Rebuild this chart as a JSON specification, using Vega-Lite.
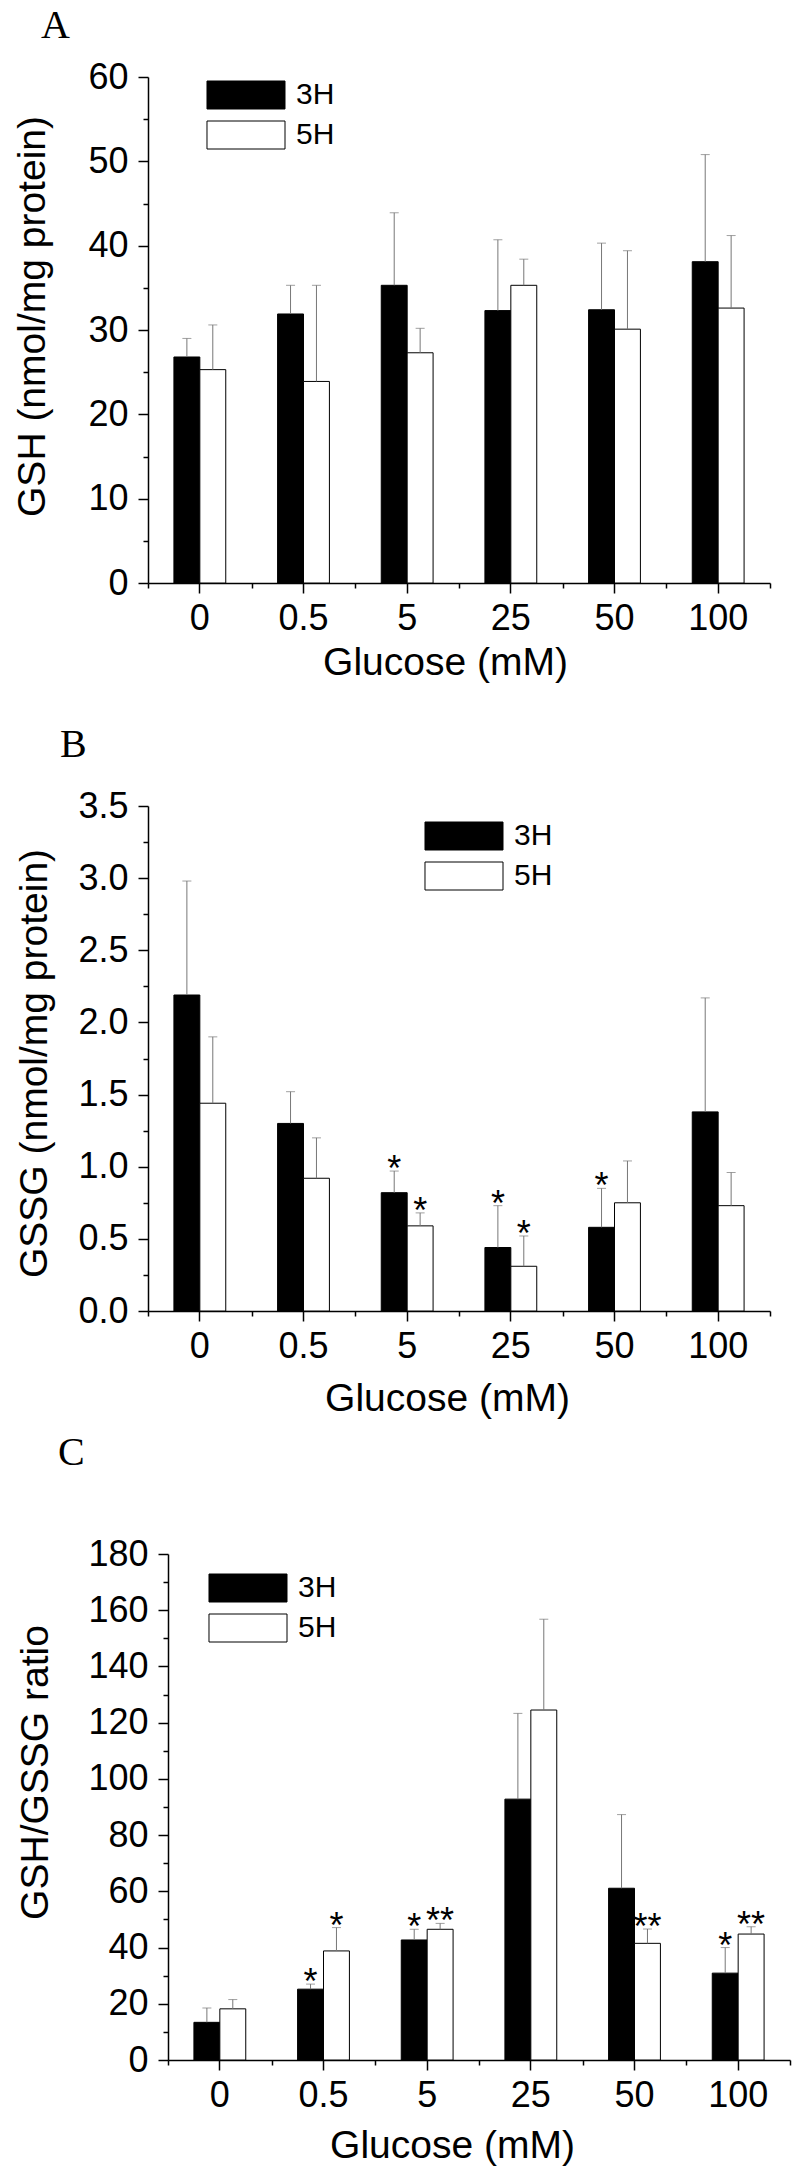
{
  "$schema": "https://vega.github.io/schema/vega-lite/v6.json",
  "padding": {"left": 12, "top": 6, "right": 5, "bottom": 5},
  "background": "white",
  "datasets": {
    "A": [
      {"glucose": "0", "group": "3H", "mean": 26.8, "upper": 29.0, "star": ""},
      {"glucose": "0", "group": "5H", "mean": 25.3, "upper": 30.6, "star": ""},
      {"glucose": "0.5", "group": "3H", "mean": 31.9, "upper": 35.3, "star": ""},
      {"glucose": "0.5", "group": "5H", "mean": 23.9, "upper": 35.3, "star": ""},
      {"glucose": "5", "group": "3H", "mean": 35.3, "upper": 43.9, "star": ""},
      {"glucose": "5", "group": "5H", "mean": 27.3, "upper": 30.2, "star": ""},
      {"glucose": "25", "group": "3H", "mean": 32.3, "upper": 40.7, "star": ""},
      {"glucose": "25", "group": "5H", "mean": 35.3, "upper": 38.4, "star": ""},
      {"glucose": "50", "group": "3H", "mean": 32.4, "upper": 40.3, "star": ""},
      {"glucose": "50", "group": "5H", "mean": 30.1, "upper": 39.4, "star": ""},
      {"glucose": "100", "group": "3H", "mean": 38.1, "upper": 50.8, "star": ""},
      {"glucose": "100", "group": "5H", "mean": 32.6, "upper": 41.2, "star": ""}
    ],
    "B": [
      {"glucose": "0", "group": "3H", "mean": 2.19, "upper": 2.98, "star": ""},
      {"glucose": "0", "group": "5H", "mean": 1.44, "upper": 1.90, "star": ""},
      {"glucose": "0.5", "group": "3H", "mean": 1.30, "upper": 1.52, "star": ""},
      {"glucose": "0.5", "group": "5H", "mean": 0.92, "upper": 1.20, "star": ""},
      {"glucose": "5", "group": "3H", "mean": 0.82, "upper": 0.97, "star": "*"},
      {"glucose": "5", "group": "5H", "mean": 0.59, "upper": 0.68, "star": "*"},
      {"glucose": "25", "group": "3H", "mean": 0.44, "upper": 0.73, "star": "*"},
      {"glucose": "25", "group": "5H", "mean": 0.31, "upper": 0.52, "star": "*"},
      {"glucose": "50", "group": "3H", "mean": 0.58, "upper": 0.85, "star": "*"},
      {"glucose": "50", "group": "5H", "mean": 0.75, "upper": 1.04, "star": ""},
      {"glucose": "100", "group": "3H", "mean": 1.38, "upper": 2.17, "star": ""},
      {"glucose": "100", "group": "5H", "mean": 0.73, "upper": 0.96, "star": ""}
    ],
    "C": [
      {"glucose": "0", "group": "3H", "mean": 13.4, "upper": 18.5, "star": ""},
      {"glucose": "0", "group": "5H", "mean": 18.2, "upper": 21.5, "star": ""},
      {"glucose": "0.5", "group": "3H", "mean": 25.2, "upper": 27.0, "star": "*"},
      {"glucose": "0.5", "group": "5H", "mean": 38.8, "upper": 47.1, "star": "*"},
      {"glucose": "5", "group": "3H", "mean": 42.7, "upper": 46.5, "star": "*"},
      {"glucose": "5", "group": "5H", "mean": 46.5, "upper": 48.6, "star": "**"},
      {"glucose": "25", "group": "3H", "mean": 92.8, "upper": 123.3, "star": ""},
      {"glucose": "25", "group": "5H", "mean": 124.5, "upper": 156.8, "star": ""},
      {"glucose": "50", "group": "3H", "mean": 61.1, "upper": 87.3, "star": ""},
      {"glucose": "50", "group": "5H", "mean": 41.5, "upper": 46.6, "star": "**"},
      {"glucose": "100", "group": "3H", "mean": 30.9, "upper": 40.0, "star": "*"},
      {"glucose": "100", "group": "5H", "mean": 44.8, "upper": 47.4, "star": "**"}
    ]
  },
  "concat": [
    {
      "columns": 1,
      "align": "none",
      "spacing": 43,
      "resolve": {"scale": {"fill": "independent"}, "legend": {"fill": "independent"}},
      "concat": [
        {
          "width": 622, "height": 506,
          "title": {"text": "A", "anchor": "start", "frame": "bounds", "font": "Liberation Serif", "fontSize": 40, "fontWeight": "normal", "baseline": "alphabetic", "offset": -19, "dx": 28, "color": "black"},
          "data": {"name": "A"},
          "layer": [
            {
              "mark": {"type": "bar", "stroke": "black", "strokeWidth": 1},
              "encoding": {
                "x": {"field": "glucose", "type": "nominal", "sort": ["0", "0.5", "5", "25", "50", "100"], "scale": {"paddingInner": 0, "paddingOuter": 0},
                  "axis": {"orient": "bottom", "title": "Glucose (mM)", "titleX": 297, "titleY": 91, "titleAlign": "center", "titleBaseline": "alphabetic", "titleFontSize": 39, "labelAngle": 0, "labelFontSize": 36, "labelPadding": 8, "tickSize": 10}},
                "xOffset": {"field": "group", "type": "nominal", "sort": ["3H", "5H"], "scale": {"paddingInner": 0, "paddingOuter": 1}},
                "y": {"field": "mean", "type": "quantitative", "scale": {"domain": [0, 60], "nice": false},
                  "axis": {"orient": "left", "title": "GSH (nmol/mg protein)", "titleX": -104, "titleY": 239, "titleAngle": 270, "titleAlign": "center", "titleBaseline": "alphabetic", "titleFontSize": 39, "values": [0, 10, 20, 30, 40, 50, 60], "format": "d", "labelFontSize": 36, "labelPadding": 10, "tickSize": 10}},
                "fill": {"field": "group", "type": "nominal", "scale": {"domain": ["3H", "5H"], "range": ["black", "white"]},
                  "legend": {"orient": "none", "legendX": 58, "legendY": 3}}
              }
            },
            {
              "mark": {"type": "rule", "color": "#777777", "strokeWidth": 1},
              "encoding": {
                "x": {"field": "glucose", "type": "nominal", "sort": ["0", "0.5", "5", "25", "50", "100"],
                  "axis": {"orient": "bottom", "tickBand": "extent", "labels": false, "domain": false, "tickSize": 5, "title": null}},
                "xOffset": {"field": "group", "type": "nominal", "sort": ["3H", "5H"]},
                "y": {"field": "mean", "type": "quantitative", "scale": {"domain": [0, 60], "nice": false},
                  "axis": {"orient": "left", "values": [5, 15, 25, 35, 45, 55], "labels": false, "domain": false, "tickSize": 5, "title": null}},
                "y2": {"field": "upper"}
              }
            },
            {
              "mark": {"type": "tick", "color": "#777777", "thickness": 1, "size": 9},
              "encoding": {
                "x": {"field": "glucose", "type": "nominal", "sort": ["0", "0.5", "5", "25", "50", "100"], "axis": null},
                "xOffset": {"field": "group", "type": "nominal", "sort": ["3H", "5H"]},
                "y": {"field": "upper", "type": "quantitative", "scale": {"domain": [0, 60], "nice": false}, "axis": null}
              }
            }
          ],
          "resolve": {"axis": {"x": "independent", "y": "independent"}}
        },
        {
          "width": 622, "height": 505,
          "title": {"text": "B", "anchor": "start", "frame": "bounds", "font": "Liberation Serif", "fontSize": 40, "fontWeight": "normal", "baseline": "alphabetic", "offset": -9, "dx": 45, "color": "black"},
          "data": {"name": "B"},
          "layer": [
            {
              "mark": {"type": "bar", "stroke": "black", "strokeWidth": 1},
              "encoding": {
                "x": {"field": "glucose", "type": "nominal", "sort": ["0", "0.5", "5", "25", "50", "100"], "scale": {"paddingInner": 0, "paddingOuter": 0},
                  "axis": {"orient": "bottom", "title": "Glucose (mM)", "titleX": 299, "titleY": 99, "titleAlign": "center", "titleBaseline": "alphabetic", "titleFontSize": 39, "labelAngle": 0, "labelFontSize": 36, "labelPadding": 8, "tickSize": 10}},
                "xOffset": {"field": "group", "type": "nominal", "sort": ["3H", "5H"], "scale": {"paddingInner": 0, "paddingOuter": 1}},
                "y": {"field": "mean", "type": "quantitative", "scale": {"domain": [0, 3.5], "nice": false},
                  "axis": {"orient": "left", "title": "GSSG (nmol/mg protein)", "titleX": -102, "titleY": 257, "titleAngle": 270, "titleAlign": "center", "titleBaseline": "alphabetic", "titleFontSize": 39, "values": [0, 0.5, 1, 1.5, 2, 2.5, 3, 3.5], "format": ".1f", "labelFontSize": 36, "labelPadding": 10, "tickSize": 10}},
                "fill": {"field": "group", "type": "nominal", "scale": {"domain": ["3H", "5H"], "range": ["black", "white"]},
                  "legend": {"orient": "none", "legendX": 276, "legendY": 15}}
              }
            },
            {
              "mark": {"type": "rule", "color": "#777777", "strokeWidth": 1},
              "encoding": {
                "x": {"field": "glucose", "type": "nominal", "sort": ["0", "0.5", "5", "25", "50", "100"],
                  "axis": {"orient": "bottom", "tickBand": "extent", "labels": false, "domain": false, "tickSize": 5, "title": null}},
                "xOffset": {"field": "group", "type": "nominal", "sort": ["3H", "5H"]},
                "y": {"field": "mean", "type": "quantitative", "scale": {"domain": [0, 3.5], "nice": false},
                  "axis": {"orient": "left", "values": [0.25, 0.75, 1.25, 1.75, 2.25, 2.75, 3.25], "labels": false, "domain": false, "tickSize": 5, "title": null}},
                "y2": {"field": "upper"}
              }
            },
            {
              "mark": {"type": "tick", "color": "#777777", "thickness": 1, "size": 9},
              "encoding": {
                "x": {"field": "glucose", "type": "nominal", "sort": ["0", "0.5", "5", "25", "50", "100"], "axis": null},
                "xOffset": {"field": "group", "type": "nominal", "sort": ["3H", "5H"]},
                "y": {"field": "upper", "type": "quantitative", "scale": {"domain": [0, 3.5], "nice": false}, "axis": null}
              }
            },
            {
              "transform": [{"filter": "datum.star != ''"}],
              "mark": {"type": "text", "font": "Liberation Sans", "fontSize": 36, "baseline": "alphabetic", "dy": 10, "color": "black"},
              "encoding": {
                "x": {"field": "glucose", "type": "nominal", "sort": ["0", "0.5", "5", "25", "50", "100"], "axis": null},
                "xOffset": {"field": "group", "type": "nominal", "sort": ["3H", "5H"]},
                "y": {"field": "upper", "type": "quantitative", "scale": {"domain": [0, 3.5], "nice": false}, "axis": null},
                "text": {"field": "star"}
              }
            }
          ],
          "resolve": {"axis": {"x": "independent", "y": "independent"}}
        }
      ]
    },
    {
      "width": 642, "height": 506,
      "title": {"text": "C", "anchor": "start", "frame": "bounds", "font": "Liberation Serif", "fontSize": 40, "fontWeight": "normal", "baseline": "alphabetic", "offset": 31, "dx": 42, "color": "black"},
      "data": {"name": "C"},
      "layer": [
        {
          "mark": {"type": "bar", "stroke": "black", "strokeWidth": 1},
          "encoding": {
            "x": {"field": "glucose", "type": "nominal", "sort": ["0", "0.5", "5", "25", "50", "100"], "scale": {"paddingInner": 0, "paddingOuter": 0, "range": [20, 642]},
              "axis": {"orient": "bottom", "title": "Glucose (mM)", "titleX": 304, "titleY": 97, "titleAlign": "center", "titleBaseline": "alphabetic", "titleFontSize": 39, "labelAngle": 0, "labelFontSize": 36, "labelPadding": 8, "tickSize": 10}},
            "xOffset": {"field": "group", "type": "nominal", "sort": ["3H", "5H"], "scale": {"paddingInner": 0, "paddingOuter": 1}},
            "y": {"field": "mean", "type": "quantitative", "scale": {"domain": [0, 180], "nice": false},
              "axis": {"orient": "left", "offset": -20, "title": "GSH/GSSG ratio", "titleX": -121, "titleY": 218, "titleAngle": 270, "titleAlign": "center", "titleBaseline": "alphabetic", "titleFontSize": 39, "values": [0, 20, 40, 60, 80, 100, 120, 140, 160, 180], "format": "d", "labelFontSize": 36, "labelPadding": 10, "tickSize": 10}},
            "fill": {"field": "group", "type": "nominal", "scale": {"domain": ["3H", "5H"], "range": ["black", "white"]},
              "legend": {"orient": "none", "legendX": 60, "legendY": 19}}
          }
        },
        {
          "mark": {"type": "rule", "color": "#777777", "strokeWidth": 1},
          "encoding": {
            "x": {"field": "glucose", "type": "nominal", "sort": ["0", "0.5", "5", "25", "50", "100"],
              "axis": {"orient": "bottom", "tickBand": "extent", "labels": false, "domain": false, "tickSize": 5, "title": null}},
            "xOffset": {"field": "group", "type": "nominal", "sort": ["3H", "5H"]},
            "y": {"field": "mean", "type": "quantitative", "scale": {"domain": [0, 180], "nice": false},
              "axis": {"orient": "left", "offset": -20, "values": [10, 30, 50, 70, 90, 110, 130, 150, 170], "labels": false, "domain": false, "tickSize": 5, "title": null}},
            "y2": {"field": "upper"}
          }
        },
        {
          "mark": {"type": "tick", "color": "#777777", "thickness": 1, "size": 9},
          "encoding": {
            "x": {"field": "glucose", "type": "nominal", "sort": ["0", "0.5", "5", "25", "50", "100"], "axis": null},
            "xOffset": {"field": "group", "type": "nominal", "sort": ["3H", "5H"]},
            "y": {"field": "upper", "type": "quantitative", "scale": {"domain": [0, 180], "nice": false}, "axis": null}
          }
        },
        {
          "transform": [{"filter": "datum.star != ''"}],
          "mark": {"type": "text", "font": "Liberation Sans", "fontSize": 36, "baseline": "alphabetic", "dy": 10, "color": "black"},
          "encoding": {
            "x": {"field": "glucose", "type": "nominal", "sort": ["0", "0.5", "5", "25", "50", "100"], "axis": null},
            "xOffset": {"field": "group", "type": "nominal", "sort": ["3H", "5H"]},
            "y": {"field": "upper", "type": "quantitative", "scale": {"domain": [0, 180], "nice": false}, "axis": null},
            "text": {"field": "star"}
          }
        }
      ],
      "resolve": {"axis": {"x": "independent", "y": "independent"}}
    }
  ],
  "columns": 1,
  "align": "none",
  "spacing": 15,
  "resolve": {"scale": {"fill": "independent"}, "legend": {"fill": "independent"}},
  "config": {
    "view": {"stroke": null},
    "axis": {"domainColor": "black", "tickColor": "black", "labelColor": "black", "titleColor": "black", "labelFont": "Liberation Sans", "titleFont": "Liberation Sans", "titleFontWeight": "normal", "domainWidth": 1.5, "tickWidth": 1.5, "grid": false},
    "legend": {"title": null, "padding": 0, "symbolType": "M-2.786,-1H2.786V1H-2.786Z", "symbolSize": 784, "symbolOffset": 25, "symbolStrokeColor": "black", "symbolStrokeWidth": 1, "symbolOpacity": 1, "labelFont": "Liberation Sans", "labelFontSize": 30, "labelColor": "black", "labelOffset": 35, "rowPadding": 8}
  }
}
